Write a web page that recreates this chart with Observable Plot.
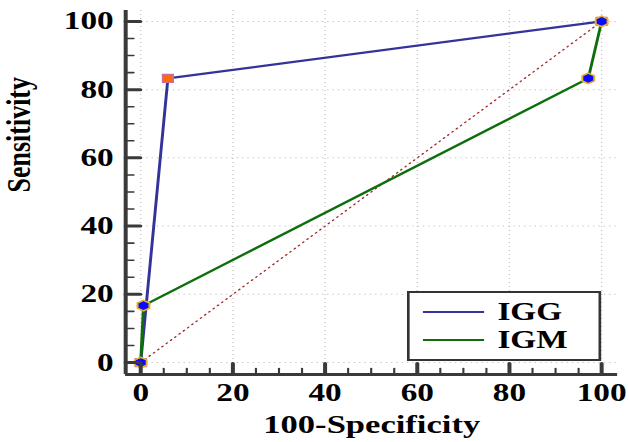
<!DOCTYPE html>
<html>
<head>
<meta charset="utf-8">
<script src="https://cdn.jsdelivr.net/npm/d3@7"></script>
<script src="https://cdn.jsdelivr.net/npm/@observablehq/plot@0.6"></script>
<style>
html, body { margin: 0; padding: 0; background: #fff; overflow: hidden; }
#wrap { position: relative; width: 473px; height: 442px; transform: scaleX(1.33); transform-origin: 0 0;
  font-family: "Liberation Serif", "Times New Roman", serif; }
#legend { position: absolute; left: 306px; top: 291px; width: 146px; height: 70px; box-sizing: border-box;
  border: 2px solid #333; background: #fff; }
.row { position: absolute; left: 10px; height: 28px; display: flex; align-items: center; }
.row .sw { width: 46px; height: 2.2px; margin-right: 10px; }
.row .lb { font-size: 25px; font-weight: bold; color: #000; line-height: 28px; }
</style>
</head>
<body>
<div id="wrap"></div>
<script>
// ---- data ----
const seriesNames = ["IGG", "IGM"];
const seriesColors = ["#333399", "#0e6e0e"];
const iggX = [0, 5.9, 100];
const iggY = [0, 83.3, 100];
const igmX = [0, 0.6, 97.1, 100];
const igmY = [0, 16.7, 83.3, 100];
const diagonal = [0, 100];
const majorTicks = [0, 20, 40, 60, 80, 100];
const tickLabels = ["0", "20", "40", "60", "80", "100"];
const minorTicks = [5, 10, 15, 25, 30, 35, 45, 50, 55, 65, 70, 75, 85, 90, 95];
const xDomain = [-3.26, 103.5];
const yDomain = [-3.5, 103.2];
const xLabel = "100-Specificity";
const yLabel = "Sensitivity";

const igg = iggX.map((x, i) => ({x, y: iggY[i]}));
const igm = igmX.map((x, i) => ({x, y: igmY[i]}));

const tickShape = {draw(ctx, l) { ctx.moveTo(0, 0); ctx.lineTo(0, -l); }};
const axisColor = "#3a3a3a";
const font = {fontFamily: '"Liberation Serif", "Times New Roman", serif', fontWeight: "bold"};

const chart = Plot.plot({
  width: 473,
  height: 442,
  marginLeft: 94,
  marginRight: 9,
  marginTop: 10,
  marginBottom: 68,
  x: {domain: xDomain},
  y: {domain: yDomain},
  style: {background: "#fff", color: "#000", fontFamily: font.fontFamily, fontSize: "25px", fontWeight: "bold"},
  marks: [
    Plot.ruleX(majorTicks, {stroke: "#c4c4c4", strokeWidth: 1, strokeDasharray: "1,3"}),
    Plot.ruleY(majorTicks, {stroke: "#c4c4c4", strokeWidth: 1, strokeDasharray: "1,3"}),
    Plot.line(diagonal, {x: d => d, y: d => d, stroke: "#a02828", strokeWidth: 1.2, strokeDasharray: "1,3.5"}),
    Plot.line(igg, {x: "x", y: "y", stroke: seriesColors[0], strokeWidth: 2.2}),
    Plot.line(igm, {x: "x", y: "y", stroke: seriesColors[1], strokeWidth: 2.2}),
    Plot.dot(igg, {x: "x", y: "y", symbol: "square", r: 4.5, fill: "#ff6a00", stroke: "#c8709a", strokeWidth: 1.2}),
    Plot.dot(igm, {x: "x", y: "y", symbol: "hexagon", r: 4.5, fill: "#0a0aff", stroke: "#e8b030", strokeWidth: 1.5}),
    // axis lines
    Plot.ruleY([yDomain[0]], {stroke: axisColor, strokeWidth: 3}),
    Plot.ruleX([xDomain[0]], {stroke: axisColor, strokeWidth: 3}),
    // inward ticks
    Plot.vector(majorTicks, {x: d => d, y: yDomain[0], length: 11, rotate: 0, anchor: "start", shape: tickShape, stroke: axisColor, strokeWidth: 3}),
    Plot.vector(minorTicks, {x: d => d, y: yDomain[0], length: 6, rotate: 0, anchor: "start", shape: tickShape, stroke: axisColor, strokeWidth: 1.6}),
    Plot.vector(majorTicks, {y: d => d, x: xDomain[0], length: 11, rotate: 90, anchor: "start", shape: tickShape, stroke: axisColor, strokeWidth: 3}),
    Plot.vector(minorTicks, {y: d => d, x: xDomain[0], length: 6, rotate: 90, anchor: "start", shape: tickShape, stroke: axisColor, strokeWidth: 1.6}),
    // tick labels
    Plot.axisX(majorTicks, {anchor: "bottom", tickSize: 0, tickPadding: 9, label: null, tickFormat: (d, i) => tickLabels[i], fontSize: 25, ...font}),
    Plot.axisY(majorTicks, {anchor: "left", tickSize: 0, tickPadding: 9, label: null, tickFormat: (d, i) => tickLabels[i], fontSize: 25, ...font}),
    // axis titles
    Plot.text([xLabel], {frameAnchor: "bottom", dy: 58, fontSize: 26, ...font}),
    Plot.text([yLabel], {frameAnchor: "left", dx: -80, rotate: -90, fontSize: 26, ...font})
  ]
});

const wrap = document.getElementById("wrap");
wrap.appendChild(chart);

// legend (inside plot area, lower right as in reference)
const legend = document.createElement("div");
legend.id = "legend";
seriesNames.forEach((name, i) => {
  const row = document.createElement("div");
  row.className = "row";
  row.style.top = (i === 0 ? 5 : 33) + "px";
  const sw = document.createElement("div");
  sw.className = "sw";
  sw.style.background = seriesColors[i];
  const lb = document.createElement("span");
  lb.className = "lb";
  lb.textContent = name;
  row.appendChild(sw);
  row.appendChild(lb);
  legend.appendChild(row);
});
wrap.appendChild(legend);
</script>
</body>
</html>
